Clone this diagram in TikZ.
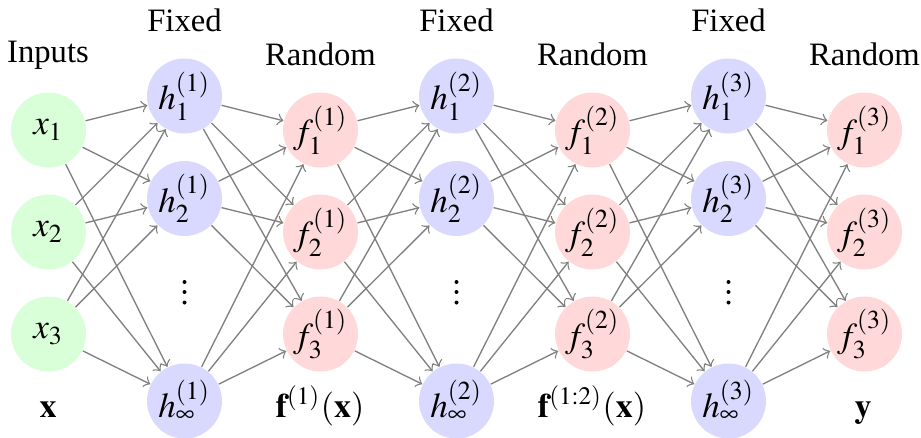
\documentclass[tikz,border=0pt]{standalone}
\usepackage{mathptmx}
\usepackage{fontspec}
\setmainfont{Liberation Serif}
\begin{document}
\begin{tikzpicture}[x=0.3pt,y=-0.3pt,
  neuron/.style={circle, minimum size=22.5pt, inner sep=0pt, font=\fontsize{10.5}{12}\selectfont},
  inp/.style={neuron, fill=green!15},
  hid/.style={neuron, fill=blue!15},
  outn/.style={neuron, fill=red!15},
  conn/.style={->, >=to, draw=black!50, line width=0.4pt},
  dotmark/.style={circle, fill=black, inner sep=0pt, minimum size=1.2pt},
  lab/.style={anchor=base, inner sep=0pt, font=\fontsize{9.8}{12}\selectfont},
  blab/.style={anchor=base, inner sep=0pt, font=\fontsize{10.2}{12}\selectfont}]
\useasboundingbox (0,0) rectangle (921,438);
% inputs
\node[inp] (x1) at (48.5,130) {$x_1$};
\node[inp] (x2) at (48.5,232) {$x_2$};
\node[inp] (x3) at (48.5,334) {$x_3$};
% layers
\foreach \L/\cx/\fx/\n in {A/184.5/320.5/1, B/456.5/592.5/2, C/728.5/864.5/3}{
  \node[hid] (h\L1) at (\cx,96) {$h^{(\n)}_1$};
  \node[hid] (h\L2) at (\cx,198.5) {$h^{(\n)}_2$};
  \node[dotmark] (da\L) at (\cx,282) {};
  \node[dotmark] (db\L) at (\cx,292) {};
  \node[dotmark] (dc\L) at (\cx,302.5) {};
  \node[hid] (h\L i) at (\cx,401) {$h^{(\n)}_\infty$};
  \node[outn] (f\L1) at (\fx,130) {$f^{(\n)}_1$};
  \node[outn] (f\L2) at (\fx,232) {$f^{(\n)}_2$};
  \node[outn] (f\L3) at (\fx,334) {$f^{(\n)}_3$};
  \node[lab] (fixed\L) at (\cx,31.5) {Fixed};
  \node[lab] (random\L) at (\fx,65) {Random};
}
% connections
\foreach \a in {x1,x2,x3}{\foreach \b in {hA1,hA2,hAi}{\draw[conn] (\a) -- (\b);}}
\foreach \L in {A,B,C}{
  \foreach \a in {h\L1,h\L2,h\L i}{\foreach \b in {f\L1,f\L2,f\L3}{\draw[conn] (\a) -- (\b);}}
}
\foreach \a in {fA1,fA2,fA3}{\foreach \b in {hB1,hB2,hBi}{\draw[conn] (\a) -- (\b);}}
\foreach \a in {fB1,fB2,fB3}{\foreach \b in {hC1,hC2,hCi}{\draw[conn] (\a) -- (\b);}}
% labels
\node[lab] (inputs) at (48,62) {Inputs};
\node[blab] (bx) at (48,417) {$\mathbf{x}$};
\node[blab] (bf1) at (320,417) {$\mathbf{f}^{(1)}(\mathbf{x})$};
\node[blab] (bf2) at (592,417) {$\mathbf{f}^{(1:2)}(\mathbf{x})$};
\node[blab] (by) at (863,417) {$\mathbf{y}$};
\end{tikzpicture}
\end{document}
